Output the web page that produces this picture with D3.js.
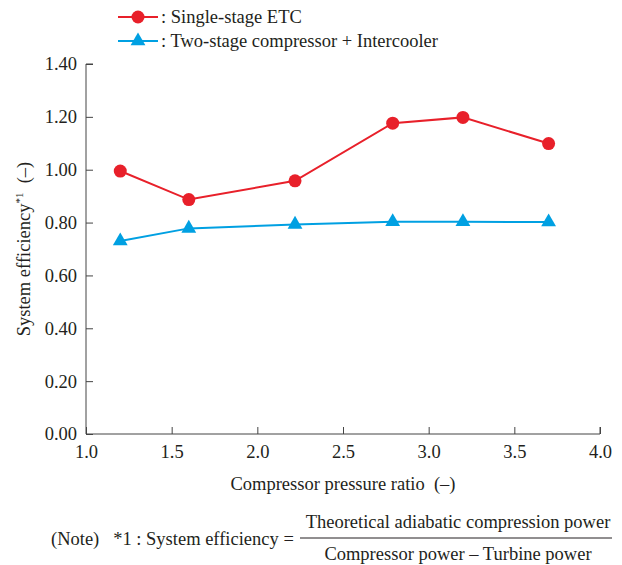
<!DOCTYPE html>
<html><head><meta charset="utf-8">
<script src="https://cdn.jsdelivr.net/npm/d3@7"></script>
<style>body{margin:0;background:#fff}svg{display:block}svg text{font-family:"Liberation Serif",Tinos,"Times New Roman",Times,"DejaVu Serif",serif !important;fill:#231f20}</style>
</head><body>
<script>
const pressureRatio = [1.2, 1.6, 2.22, 2.79, 3.2, 3.7];
const singleStage = [0.995, 0.887, 0.958, 1.176, 1.198, 1.099];
const twoStage = [0.73, 0.778, 0.793, 0.803, 0.803, 0.802];
const xTicks = [1.0, 1.5, 2.0, 2.5, 3.0, 3.5, 4.0];
const yTicks = [0, 0.2, 0.4, 0.6, 0.8, 1.0, 1.2, 1.4];
const seriesNames = [": Single-stage ETC", ": Two-stage compressor + Intercooler"];

const W = 622, H = 565;
const svg = d3.select("body").append("svg").attr("width", W).attr("height", H);
const x = d3.scaleLinear().domain([1, 4]).range([86, 600]);
const y = d3.scaleLinear().domain([0, 1.4]).range([434, 64]);
const axisCol = "#444";
const red = "#e8202a", blue = "#00a0e2";
const fs = 18.5;

// x axis
const gx = svg.append("g").attr("transform", "translate(0,434)")
  .call(d3.axisBottom(x).tickValues(xTicks).tickSize(-7).tickPadding(11).tickFormat(d3.format(".1f")));
gx.selectAll("text").attr("font-size", fs);
gx.select(".domain").attr("stroke", axisCol).attr("d", "M86,0H600V-7");
gx.selectAll(".tick line").attr("stroke", axisCol);

// y axis
const gy = svg.append("g").attr("transform", "translate(86,0)")
  .call(d3.axisLeft(y).tickValues(yTicks).tickSize(-7).tickPadding(9).tickFormat(d3.format(".2f")));
gy.selectAll("text").attr("font-size", fs);
gy.select(".domain").attr("stroke", axisCol).attr("d", "M7,64H0V434");
gy.selectAll(".tick line").attr("stroke", axisCol);

// titles
svg.append("text").attr("x", 343).attr("y", 490).attr("text-anchor", "middle").attr("font-size", fs)
  .text("Compressor pressure ratio\u00a0 (\u2013)");
const yt = svg.append("text").attr("transform", "translate(30,249) rotate(-90)").attr("text-anchor", "middle").attr("font-size", fs);
yt.append("tspan").text("System efficiency");
yt.append("tspan").attr("font-size", 11).attr("dy", -7).text("*1");
yt.append("tspan").attr("dy", 7).text("\u00a0 (\u2013)");

// lines
const line = d3.line().x((d, i) => x(pressureRatio[i])).y(d => y(d));
svg.append("path").datum(singleStage).attr("d", line).attr("fill", "none").attr("stroke", red).attr("stroke-width", 2);
svg.append("path").datum(twoStage).attr("d", line).attr("fill", "none").attr("stroke", blue).attr("stroke-width", 2);

svg.selectAll("circle.m").data(singleStage).enter().append("circle")
  .attr("cx", (d, i) => x(pressureRatio[i])).attr("cy", d => y(d)).attr("r", 6.5).attr("fill", red);
const tri = d3.symbol().type(d3.symbolTriangle).size(95);
svg.selectAll("path.t").data(twoStage).enter().append("path")
  .attr("d", tri).attr("transform", (d, i) => `translate(${x(pressureRatio[i])},${y(d)})`).attr("fill", blue);

// legend
const leg = [{c: red, t: "c", y: 17}, {c: blue, t: "t", y: 41}];
leg.forEach((l, i) => {
  svg.append("line").attr("x1", 118).attr("x2", 158).attr("y1", l.y).attr("y2", l.y).attr("stroke", l.c).attr("stroke-width", 2);
  if (l.t === "c") svg.append("circle").attr("cx", 138).attr("cy", l.y).attr("r", 6.5).attr("fill", l.c);
  else svg.append("path").attr("d", tri).attr("transform", `translate(138,${l.y})`).attr("fill", l.c);
  svg.append("text").attr("x", 161).attr("y", l.y + 6).attr("font-size", fs).text(seriesNames[i]);
});

// note
svg.append("text").attr("x", 51).attr("y", 545).attr("font-size", fs).text("(Note)\u00a0\u00a0 *1 : System efficiency =");
svg.append("line").attr("x1", 300).attr("x2", 612).attr("y1", 538).attr("y2", 538).attr("stroke", "#231f20").attr("stroke-width", 1);
svg.append("text").attr("x", 458).attr("y", 528).attr("text-anchor", "middle").attr("font-size", fs).text("Theoretical adiabatic compression power");
svg.append("text").attr("x", 458).attr("y", 560).attr("text-anchor", "middle").attr("font-size", fs).text("Compressor power \u2013 Turbine power");
</script>
</body></html>
